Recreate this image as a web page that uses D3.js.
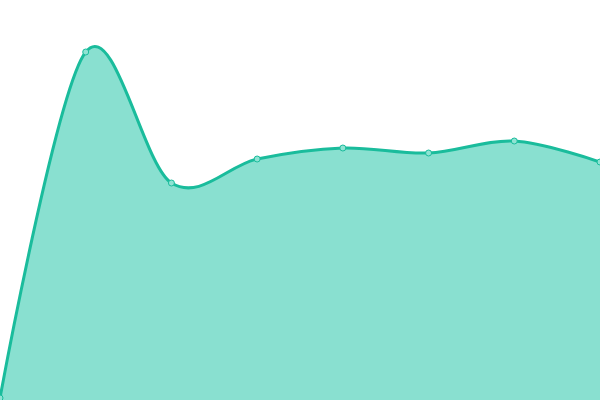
<!DOCTYPE html>
<html>
<head>
<meta charset="utf-8">
<script src="https://cdn.jsdelivr.net/npm/d3@7"></script>
<style>
  html, body { margin: 0; padding: 0; background: #ffffff; }
  svg { display: block; }
</style>
</head>
<body>
<script>

// Data
var categories = ["0", "1", "2", "3", "4", "5", "6", "7"];
var values = [2, 348, 217, 241, 252, 247, 259, 238];

var width = 600, height = 400;

var svg = d3.select("body").append("svg")
            .attr("width", width)
            .attr("height", height);

// Scales
var xScale = d3.scalePoint()
               .domain(categories)
               .range([0, width]);

var yScale = d3.scaleLinear()
               .domain([0, 400])
               .range([height, 0]);

var points = categories.map(function(c, i) { return { cat: c, val: values[i] }; });

// Area
var area = d3.area()
             .x(function(d) { return xScale(d.cat); })
             .y0(yScale(0))
             .y1(function(d) { return yScale(d.val); })
             .curve(d3.curveCardinal);

svg.append("path")
   .datum(points)
   .attr("d", area)
   .style("fill", "#89e0d0");

// Line
var line = d3.line()
             .x(function(d) { return xScale(d.cat); })
             .y(function(d) { return yScale(d.val); })
             .curve(d3.curveCardinal);

svg.append("path")
   .datum(points)
   .attr("d", line)
   .style("fill", "none")
   .style("stroke", "#1abc9c")
   .style("stroke-width", 3);

// Markers
svg.selectAll("circle.dot")
   .data(points)
   .enter()
   .append("circle")
   .attr("class", "dot")
   .attr("cx", function(d) { return xScale(d.cat); })
   .attr("cy", function(d) { return yScale(d.val); })
   .attr("r", 3)
   .style("fill", "#8fe3d3")
   .style("stroke", "#1abc9c")
   .style("stroke-width", 1);

</script>
</body>
</html>
